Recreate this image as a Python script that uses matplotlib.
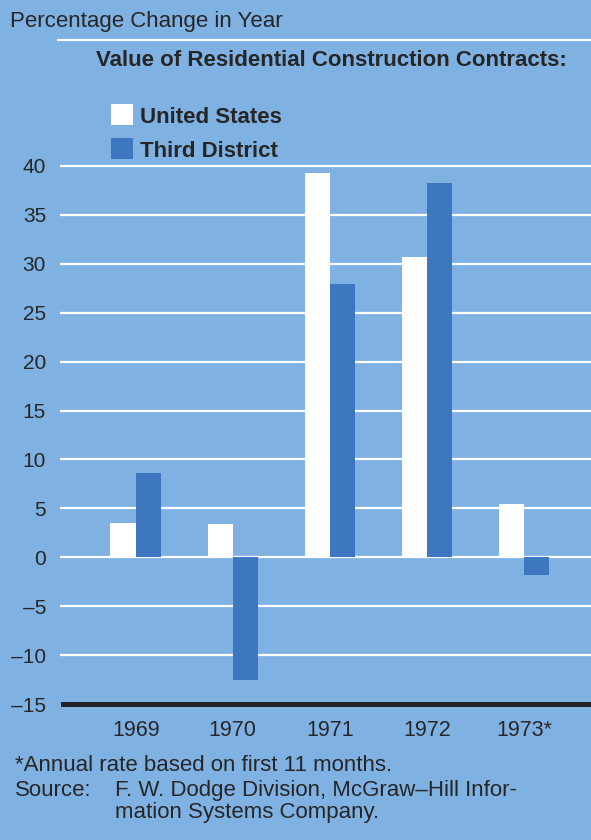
import matplotlib
matplotlib.use("Agg")
import matplotlib.pyplot as plt
from matplotlib.patches import Rectangle
from matplotlib.lines import Line2D
import numpy as np

# data: percentage change in value of residential construction contracts
years = ["1969", "1970", "1971", "1972", "1973*"]
us_change = [3.5, 3.4, 39.3, 30.7, 5.4]
district_change = [8.6, -12.5, 27.9, 38.3, -1.8]
yticks = [-15, -10, -5, 0, 5, 10, 15, 20, 25, 30, 35, 40]

bg = "#7fb2e3"
dark = "#3d77bf"
ink = "#262626"

plt.rcParams["font.family"] = ["Liberation Sans", "DejaVu Sans"]

W, H = 591, 840
fig = plt.figure(figsize=(W / 100, H / 100), dpi=100, facecolor=bg)

def fx(px):
    return px / W

def fy(py):
    return 1 - py / H

# axes box in pixel terms
ax_left, ax_right = 60, 591
ax_top, ax_bot = 161.1, 708.9
ax = fig.add_axes([fx(ax_left), fy(ax_bot), fx(ax_right - ax_left), (ax_bot - ax_top) / H])
ax.set_facecolor(bg)
for s in ax.spines.values():
    s.set_visible(False)

x = np.arange(len(years))
w = 0.26
ax.bar(x - 0.13, us_change, width=w, color="white", zorder=3)
ax.bar(x + 0.13, district_change, width=w, color=dark, zorder=3)

for yv in yticks[1:]:
    ax.axhline(yv, color="white", lw=1.6, zorder=1)
ax.axhline(-15, xmin=0.006, xmax=1, color="#222222", lw=3.6, zorder=4)

ax.set_xlim(-0.78, 4.69)
ax.set_ylim(-15.5, 40.5)
ax.set_yticks(yticks)
ax.set_yticklabels([str(v).replace("-", "\u2013") for v in yticks])
ax.set_xticks(x)
ax.set_xticklabels(years)
ax.tick_params(axis="y", length=0, pad=10, labelsize=15, labelcolor=ink)
ax.tick_params(axis="x", length=0, pad=8, labelsize=15.5, labelcolor=ink)

# header
fig.text(fx(10), fy(26.5), "Percentage Change in Year", fontsize=16, color=ink, va="baseline")
fig.add_artist(Line2D([fx(58), fx(591)], [fy(40), fy(40)], color="white", lw=1.6))
fig.text(fx(96), fy(65.7), "Value of Residential Construction Contracts:", fontsize=16,
         fontweight="bold", color=ink, va="baseline")

# legend
fig.add_artist(Rectangle((fx(110.7), fy(125)), fx(22.6), 21 / H, facecolor="white",
                         edgecolor="none", transform=fig.transFigure))
fig.add_artist(Rectangle((fx(110.7), fy(159)), fx(22.6), 21 / H, facecolor=dark,
                         edgecolor="none", transform=fig.transFigure))
fig.text(fx(140), fy(123.3), "United States", fontsize=16, fontweight="bold", color=ink, va="baseline")
fig.text(fx(140), fy(156.7), "Third District", fontsize=16, fontweight="bold", color=ink, va="baseline")

# footnotes
fig.text(fx(15), fy(770.7), "*Annual rate based on first 11 months.", fontsize=16, color=ink, va="baseline")
fig.text(fx(15), fy(795.7), "Source:", fontsize=16, color=ink, va="baseline")
fig.text(fx(115), fy(795.7), "F. W. Dodge Division, McGraw\u2013Hill Infor-", fontsize=16, color=ink, va="baseline")
fig.text(fx(115), fy(818.3), "mation Systems Company.", fontsize=16, color=ink, va="baseline")

fig.savefig("out.png", dpi=100, facecolor=bg)
